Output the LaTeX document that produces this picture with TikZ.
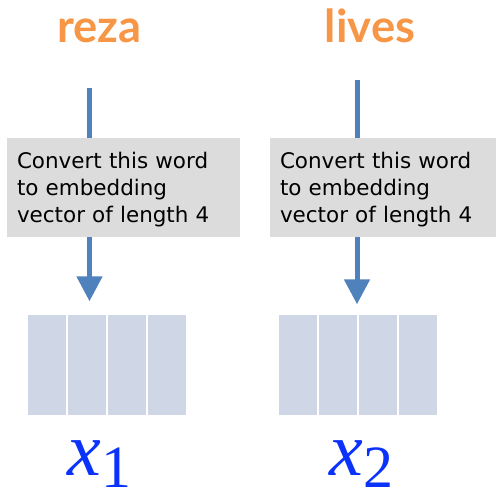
\documentclass[tikz,border=0pt]{standalone}
\usepackage{fontspec}
\usetikzlibrary{arrows.meta,positioning}
\newfontfamily\wordfont{Lato}
\newfontfamily\boxfont{DejaVu Sans}
\newfontfamily\labelfont{Liberation Serif}
\definecolor{myorange}{RGB}{247,150,70}
\definecolor{myblue}{RGB}{79,129,189}
\definecolor{mygray}{RGB}{220,220,220}
\definecolor{mycell}{RGB}{207,215,230}
\definecolor{mylabel}{RGB}{10,50,250}

\begin{document}
\begin{tikzpicture}[x=0.75pt, y=-0.75pt,
    word/.style={anchor=base, text=myorange,
        font=\wordfont\bfseries\fontsize{34}{34}\selectfont},
    convert/.style={fill=mygray, minimum width=174.75pt, minimum height=74.25pt,
        text width=159.75pt, inner xsep=7.5pt, align=left,
        font=\boxfont\fontsize{16.1}{20.25}\selectfont},
    cell/.style={fill=mycell, draw=white, line width=1.1pt,
        minimum width=30pt, minimum height=76.5pt, inner sep=0pt},
    vecarrow/.style={draw=myblue, line width=3.75pt,
        -{Triangle[width=18.75pt, length=18.75pt]}},
    veclabel/.style={anchor=base west, text=mylabel, inner sep=1pt,
        font=\labelfont\itshape\fontsize{57}{57}\selectfont}]
    \useasboundingbox (0, 0) rectangle (496, 493);
    \clip (0, 0) rectangle (496, 493);
    \begin{scope}
        % First word
        \node[word] (reza) at (99.5, 42) {reza};
        \coordinate (reza-tail) at (89.5, 88);
        % Its vector
        \foreach \i in {1,...,4}
            \node[cell] (x1-\i) at (7 + 40*\i, 365) {};
        \draw[vecarrow, shorten >=9pt] (reza-tail) -- (reza-tail |- x1-1.north);
        \node[convert] (reza-box) at (123.5, 187.5) {
            \rule{0pt}{15pt}Convert this word\\
            to embedding\\
            vector of length 4
        };
        \node[veclabel] (x1-label) at (66, 475)
            {x\raisebox{-9.5pt}{\upshape\fontsize{45}{45}\selectfont 1}};
    \end{scope}
    \begin{scope}
        % Second word
        \node[word] (lives) at (370, 42) {lives};
        \coordinate (lives-tail) at (357, 80);
        % Its vector
        \foreach \i in {1,...,4}
            \node[cell] (x2-\i) at (258 + 40*\i, 365) {};
        \draw[vecarrow, shorten >=6.75pt] (lives-tail) -- (lives-tail |- x2-1.north);
        \node[convert] (lives-box) at (386.5, 187.5) {
            \rule{0pt}{15pt}Convert this word\\
            to embedding\\
            vector of length 4
        };
        \node[veclabel] (x2-label) at (328, 475)
            {x\raisebox{-9.5pt}{\upshape\fontsize{45}{45}\selectfont 2}};
    \end{scope}
\end{tikzpicture}
\end{document}
